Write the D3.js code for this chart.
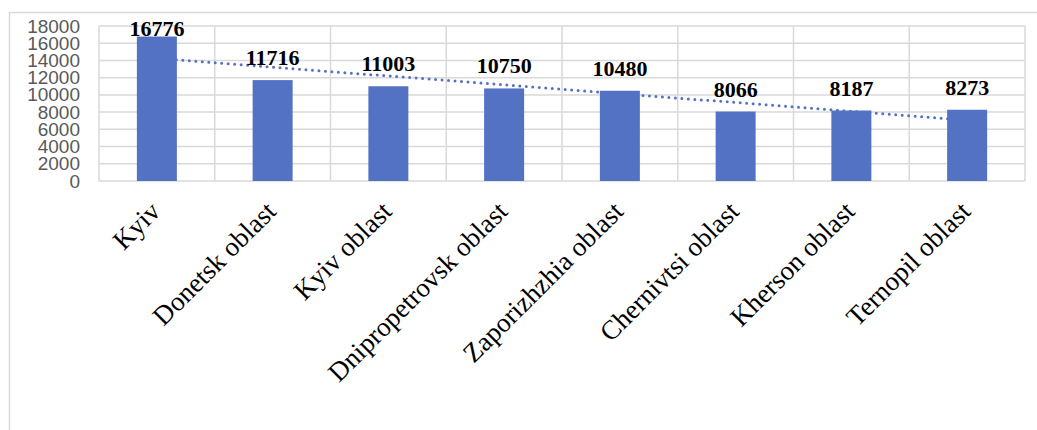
<!DOCTYPE html>
<html>
<head>
<meta charset="utf-8">
<script src="https://cdn.jsdelivr.net/npm/d3@7"></script>
<style>
  html, body { margin: 0; padding: 0; background: #fff; }
  svg { display: block; }
</style>
</head>
<body>
<svg id="chart" width="1037" height="430"></svg>
<script>
// Regions and their values
const regions = ["Kyiv", "Donetsk oblast", "Kyiv oblast", "Dnipropetrovsk oblast",
                 "Zaporizhzhia oblast", "Chernivtsi oblast", "Kherson oblast", "Ternopil oblast"];
const values = [16776, 11716, 11003, 10750, 10480, 8066, 8187, 8273];
const yTicks = [0, 2000, 4000, 6000, 8000, 10000, 12000, 14000, 16000, 18000];

const svg = d3.select("#chart");
const W = 1037, H = 430;
const plot = { left: 99, top: 26, right: 1025, bottom: 181 };
const barColor = "#5472c4";
const gridColor = "#d9d9d9";

// Chart area frame (top and left edges)
svg.append("path")
  .attr("d", `M9.5,${H} L9.5,12.5 L${W},12.5`)
  .attr("fill", "none").attr("stroke", gridColor).attr("stroke-width", 1.5);

const x = d3.scaleBand().domain(regions).range([plot.left, plot.right]).paddingInner(0).paddingOuter(0);
const y = d3.scaleLinear().domain([0, 18000]).range([plot.bottom, plot.top]);

// Horizontal grid lines
svg.append("g").selectAll("line").data(yTicks).join("line")
  .attr("x1", plot.left).attr("x2", plot.right)
  .attr("y1", d => y(d)).attr("y2", d => y(d))
  .attr("stroke", gridColor).attr("stroke-width", 1.5);

// Vertical grid lines at category boundaries
const bounds = regions.map(r => x(r)).concat([plot.right]);
svg.append("g").selectAll("line").data(bounds).join("line")
  .attr("x1", d => d).attr("x2", d => d)
  .attr("y1", plot.top).attr("y2", plot.bottom)
  .attr("stroke", gridColor).attr("stroke-width", 1.5);

// Y axis labels
const yAxis = d3.axisLeft(y).tickValues(yTicks).tickSize(0).tickPadding(0).tickFormat(d3.format("d"));
const ga = svg.append("g").attr("transform", "translate(80,0)").call(yAxis);
ga.select(".domain").remove();
ga.selectAll("text")
  .attr("fill", "#595959")
  .style("font-family", "'Liberation Sans', Arial, sans-serif")
  .style("font-size", "19px");

// Linear trend line (least squares over category index)
const n = values.length;
const idx = d3.range(1, n + 1);
const mx = d3.mean(idx), my = d3.mean(values);
const slope = d3.sum(idx, (k, i) => (k - mx) * (values[i] - my)) / d3.sum(idx, k => (k - mx) ** 2);
const icpt = my - slope * mx;
const cx = i => x(regions[i]) + x.bandwidth() / 2;
svg.append("line")
  .attr("x1", cx(0)).attr("y1", y(icpt + slope * 1))
  .attr("x2", cx(n - 1)).attr("y2", y(icpt + slope * n))
  .attr("stroke", barColor).attr("stroke-width", 3)
  .attr("stroke-linecap", "round").attr("stroke-dasharray", "0,6.5");

// Bars
const barW = 40;
svg.append("g").selectAll("rect").data(values).join("rect")
  .attr("x", (d, i) => cx(i) - barW / 2)
  .attr("y", d => y(d))
  .attr("width", barW)
  .attr("height", d => plot.bottom - y(d))
  .attr("fill", barColor);

// Value labels above bars
svg.append("g").selectAll("text").data(values).join("text")
  .attr("x", (d, i) => cx(i))
  .attr("y", d => Math.max(y(d) - 15, 35.5))
  .attr("text-anchor", "middle")
  .style("font-family", "'Liberation Serif', 'Times New Roman', serif")
  .style("font-weight", "bold")
  .style("font-size", "22px")
  .attr("fill", "#000")
  .text(d => d);

// Category labels, rotated
svg.append("g").selectAll("text").data(regions).join("text")
  .attr("transform", (d, i) => `translate(${cx(i) + 5},${213}) rotate(-45)`)
  .attr("text-anchor", "end")
  .style("font-family", "'Liberation Serif', 'Times New Roman', serif")
  .style("font-size", "27px")
  .attr("fill", "#000")
  .text(d => d);
</script>
</body>
</html>
